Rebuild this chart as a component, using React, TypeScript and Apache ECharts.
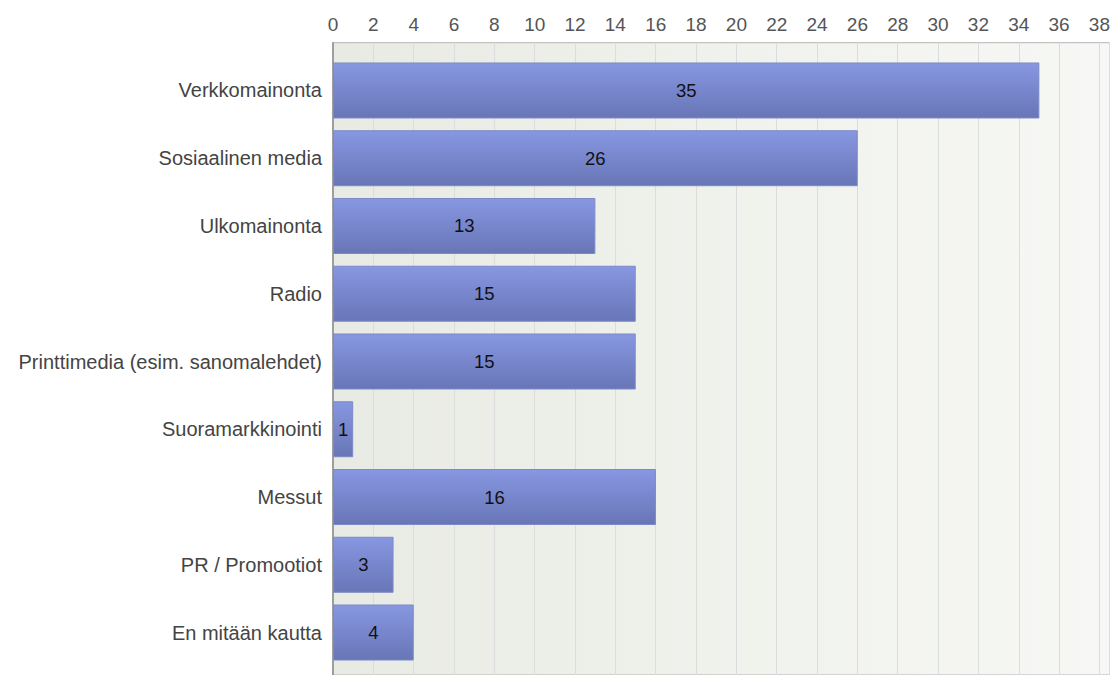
import React, { useEffect, useRef } from "react";
import * as echarts from "echarts";

const categories = [
  "Verkkomainonta",
  "Sosiaalinen media",
  "Ulkomainonta",
  "Radio",
  "Printtimedia (esim. sanomalehdet)",
  "Suoramarkkinointi",
  "Messut",
  "PR / Promootiot",
  "En mitään kautta",
];
const values = [35, 26, 13, 15, 15, 1, 16, 3, 4];
const axisMax = 38.5;
const tickInterval = 2;

const FONT = "'Liberation Sans', Arial, sans-serif";

export default function App() {
  const ref = useRef<HTMLDivElement>(null);
  useEffect(() => {
    if (!ref.current) return;
    const chart = echarts.init(ref.current, undefined, { renderer: "svg" });
    const left = 333;
    const right = 3;
    chart.setOption({
      animation: false,
      backgroundColor: "#ffffff",
      grid: [
        {
          left,
          right,
          top: 42.7,
          bottom: -5,
          show: true,
          borderColor: "#b4b4b4",
          borderWidth: 1,
          backgroundColor: new echarts.graphic.LinearGradient(0, 0, 1, 0, [
            { offset: 0, color: "#e8ebe3" },
            { offset: 1, color: "#f7f8f5" },
          ]),
        },
        { left, right, top: 56.6, bottom: 8.6 },
      ],
      xAxis: [
        {
          gridIndex: 0,
          type: "value",
          position: "top",
          min: 0,
          max: axisMax,
          interval: tickInterval,
          axisLine: { show: true, lineStyle: { color: "#9a9a9a", width: 1 } },
          axisTick: { show: true, inside: true, length: 4, lineStyle: { color: "#9a9a9a" } },
          axisLabel: {
            showMaxLabel: false,
            color: "#555",
            fontSize: 19,
            fontFamily: FONT,
            margin: 9,
          },
          splitLine: { show: true, lineStyle: { color: "#dcdcdc", width: 1 } },
        },
        {
          gridIndex: 1,
          type: "value",
          min: 0,
          max: axisMax,
          show: false,
        },
      ],
      yAxis: [
        {
          gridIndex: 0,
          type: "value",
          axisLine: { show: true, lineStyle: { color: "#8a8a8a", width: 1.5 } },
          axisTick: { show: false },
          axisLabel: { show: false },
          splitLine: { show: false },
        },
        {
          gridIndex: 1,
          type: "category",
          inverse: true,
          data: categories,
          axisLine: { show: false },
          axisTick: { show: false },
          axisLabel: {
            color: "#444",
            fontSize: 20,
            fontFamily: FONT,
            margin: 11,
          },
        },
      ],
      series: [
        {
          type: "bar",
          xAxisIndex: 1,
          yAxisIndex: 1,
          data: values,
          barWidth: 56,
          itemStyle: {
            color: new echarts.graphic.LinearGradient(0, 0, 0, 1, [
              { offset: 0, color: "#8797e1" },
              { offset: 1, color: "#6876b7" },
            ]),
            borderColor: "#7d89c8",
            borderWidth: 1,
          },
          label: {
            show: true,
            position: "inside",
            color: "#111",
            fontSize: 18.5,
            fontFamily: FONT,
          },
        },
      ],
    });
    return () => chart.dispose();
  }, []);
  return (
    <div
      ref={ref}
      style={{ position: "fixed", left: 0, top: 0, width: 1113, height: 675 }}
    />
  );
}
